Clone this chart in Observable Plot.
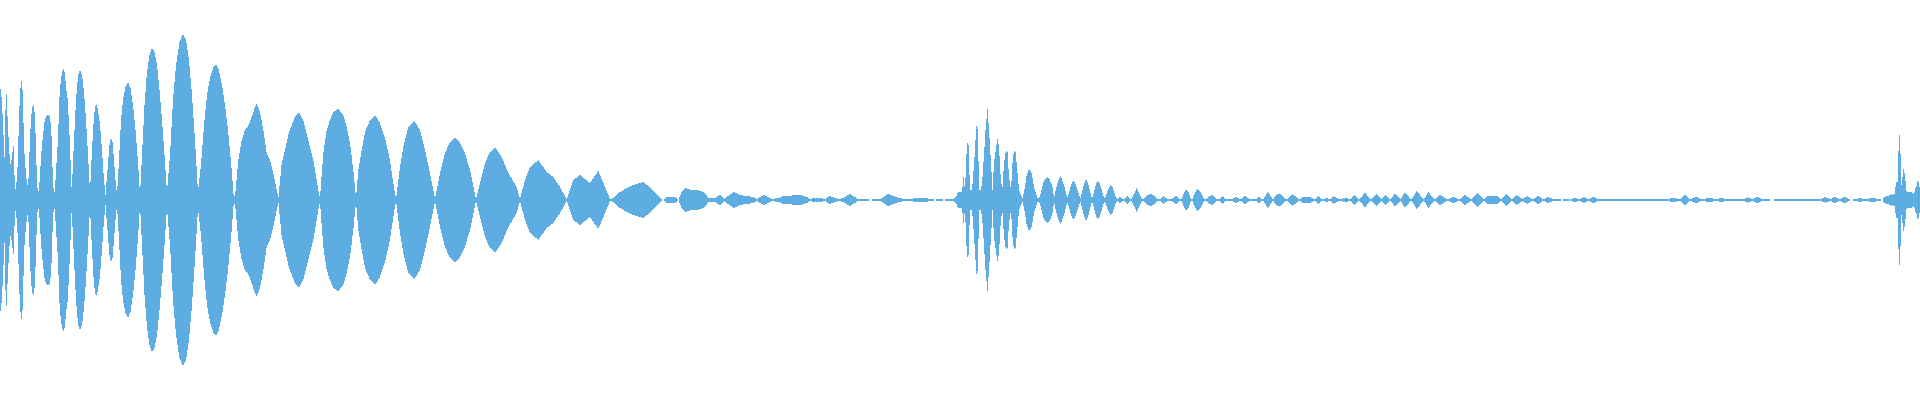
<!DOCTYPE html>
<html>
<head>
<meta charset="utf-8">
<script src="https://cdn.jsdelivr.net/npm/d3@7"></script>
<script src="https://cdn.jsdelivr.net/npm/@observablehq/plot@0.6"></script>
<style>
  html, body { margin: 0; padding: 0; background: #ffffff; }
  #chart svg { display: block; }
</style>
</head>
<body>
<div id="chart"></div>
<script>
// Waveform envelope: [sample position, peak amplitude] pairs.
const onset = [[0,115],[1.7,102],[3.3,70],[4.5,43],[5.5,90],[6.5,106],[7.8,78],[8.8,57],[9.8,42],[10.8,33],[12.3,47],[13.8,56],[14.8,13],[16,10],[17.8,37],[18.8,75],[20,107],[21,117],[22.2,121],[23.3,83],[24.7,40],[26,27],[27.3,13],[28.5,22],[29.7,52],[31,83],[32.5,93],[34,96],[35.2,78],[36.3,40],[37.7,8],[39,10],[40,25],[41.3,47],[43,65],[44.8,80],[46.5,84],[48.2,86],[50,83],[51.3,70],[52.7,27],[54,3],[55.3,17],[56.7,40],[58,60],[59.3,100],[60.7,118],[62,127],[63.3,131],[64.7,128],[66,113],[67.5,102],[69,77]];

const decay = [[70.5,40],[71.7,8],[74,60],[76,100],[78,124],[80,131],[82,125],[84,108],[86,80],[88,45],[90,8],[92,50],[94,85],[96,97],[98,90],[100,75],[102,50],[104,20],[105.5,5],[107.5,30],[109.5,55],[111,63],[112.5,58],[114,40],[115.5,20],[117,5],[119,40],[121,80],[123,100],[125.5,113],[128,118],[130.5,112],[133,95],[135.5,70],[138,38],[140,5],[142,45],[144.5,95],[147,128],[149.5,145],[152,152],[154.5,148],[157,135],[159.5,110],[162,80],[164.5,45],[167,8],[170,45],[173,100],[176,135],[179.5,158],[183,166],[186,160],[189,140],[192,105],[195,60],[198,8],[201,35],[204,75],[207,105],[210,122],[213,132],[216,136],[219,130],[222,115],[225,95],[228,70],[231,38],[233.5,6],[235,3],[238.3,40],[241.7,60],[245,70],[248.3,74],[251.7,83],[255,93],[256.7,96],[260,88],[263.3,70],[266.7,47],[270,40],[273.3,27],[276.7,10],[278.5,3],[281.7,37],[285,50],[288.3,65],[291.7,75],[295,83],[299,88],[303.3,80],[308.3,60],[313.3,40],[318.3,10],[320,2]];

const fade = [[323.3,47],[326.7,70],[330,80],[333.3,88],[338.3,91],[343.3,85],[346.7,73],[350,57],[353.3,30],[356,2],[358.3,30],[361.7,50],[365,68],[370,80],[375,85],[380,77],[385,62],[390,40],[393.3,17],[396,1],[400,33],[403.3,53],[408.3,73],[414.3,79],[420,70],[425,50],[430,27],[435,1],[440,27],[445,47],[450,58],[455,62],[460,57],[465,47],[470,30],[476,1],[480,17],[485,37],[490,48],[495,53],[501.7,43],[508.3,27],[516.7,13],[520,1],[525,20],[530,33],[538.3,40],[546.7,28],[553.3,23],[560,13],[566.7,1],[573.3,20],[580,25],[590,17],[598.3,29],[605,13],[610,1],[613.3,2],[620,8],[626.7,12],[633,15],[640,17]];

const quiet = [[643,18],[650,13],[655,7],[660,2],[663,0],[664,0.5],[666.7,3],[675,3],[678,0],[678.3,0],[681.7,8],[685,12],[691.7,10],[698.3,10],[705,7],[708.3,2],[715,2],[720,5],[724,1],[726.7,3],[734,8],[740,5],[746.7,4],[753.3,3],[756.7,1],[764,5],[771.7,1],[778.3,2],[783.3,4],[800,5],[806.7,3],[810,1],[813.3,2],[821.7,2],[825,1],[830,4],[838.3,1],[843.3,2],[850,6],[858.3,1],[868,1],[870,0],[873,1],[880,1],[881.7,2],[888.3,6],[896.7,3],[903.3,1],[923.3,2],[933.3,1],[935,0],[936.7,1],[942,1],[943,0],[946,1],[953,1],[956,3]];

const burst2 = [[958,8],[960,8],[962,8],[963.5,23],[965,10],[967,58],[968.5,55],[970,10],[972,10],[974,35],[975.5,60],[976.5,74],[978,70],[979,10],[981,10],[982.5,23],[984,45],[985.5,70],[987.5,91],[989,70],[991,37],[992.5,10],[994,37],[996,52],[997.5,61],[999,53],[1001,17],[1002.5,13],[1004,37],[1006,50],[1007.5,48],[1009,23],[1011,10],[1012.5,37],[1014,50],[1015.5,48],[1017,33],[1019,10],[1021,5]];

const ring2 = [[1022.7,2],[1025,13],[1026.7,25],[1029,31],[1031.7,27],[1034,13],[1037.3,2],[1039.3,2],[1042,12],[1044,20],[1047.3,23],[1050,20],[1052.7,12],[1054,2],[1056.7,14],[1058.7,21],[1060,23],[1062,21],[1064.7,12],[1067.3,2],[1070,11],[1072,17],[1073.3,19],[1075.3,17],[1078,9],[1080,2],[1080.7,2],[1083,12],[1085.7,21],[1088,17],[1091.7,2],[1092.3,2],[1095,12],[1097.3,19],[1100,16],[1104,2],[1105,2],[1108,10],[1110.7,15],[1113,12],[1116,2],[1117.3,1],[1120,3],[1123,1],[1125,1],[1127,4],[1130,1],[1131.7,1],[1134,6],[1136.7,12],[1139,7],[1142,1],[1144,1],[1147,5],[1150,6],[1153,5],[1158,1],[1160,1],[1163,4],[1168,1],[1171.7,1],[1176,4],[1180,1],[1181.7,1],[1184,7],[1186,11],[1188.5,8],[1191,1],[1192.3,1],[1195,7],[1197.3,11],[1200,9],[1204,1],[1206,1],[1209,4],[1212,5],[1217,1],[1219.3,1],[1222,4],[1225.7,1],[1231,1],[1231.7,1],[1236,3],[1240,1],[1241,1],[1245,4],[1250,1],[1256.7,1],[1259,3],[1261.7,1],[1263.3,1],[1266,5],[1267.3,8],[1270,5],[1272.7,1],[1273.3,1],[1277,6]];

const tail = [[1280,6],[1283,4],[1285,1],[1287.3,1],[1290,4],[1292.7,6],[1295,4],[1298.3,1],[1300.7,1],[1303,3],[1310,3],[1314.3,1],[1316,1],[1318,4],[1321.7,1],[1323.3,1],[1326,2],[1329.3,1],[1330,1],[1333.3,4],[1339,1],[1340,1],[1345,2],[1350,1],[1354,5],[1359,1],[1360,1],[1363,5],[1365,8],[1367,5],[1370,1],[1371.7,1],[1376.7,6],[1381.7,1],[1385.7,5],[1390,1],[1391,1],[1395,7],[1400,1],[1400.7,1],[1405,8],[1410.7,1],[1411.7,1],[1416.7,9],[1423.3,1],[1424,1],[1428.3,8],[1434,1],[1435,1],[1440,5],[1446.7,1],[1448.3,1],[1453.3,3],[1458.3,1],[1460,1],[1465,5],[1470.7,1],[1471.7,1],[1477.3,7],[1483.3,1],[1484,1],[1488,4],[1497,4],[1500.7,1],[1501.7,1],[1506.7,6],[1511.7,1],[1512.3,1],[1516.7,5],[1522.3,1],[1522.7,1],[1527.3,4],[1532.3,1],[1533.3,1],[1538.3,4],[1543.3,1],[1544,1],[1548.3,3],[1552.7,1],[1554,1],[1560,1],[1561,0],[1562.5,0],[1563.3,1],[1568,1],[1569,0],[1570.7,1],[1575,2],[1579,1],[1580,1],[1584,3],[1588.3,1],[1589.3,1],[1593.3,3],[1598.3,1],[1601.7,1],[1605,1.5],[1611.7,1],[1612.7,1],[1616,1.5],[1621.7,1],[1624,1],[1635,1],[1638.3,1],[1643,1.5],[1646.7,1],[1650,1],[1663,1],[1668.3,1],[1673.3,2.5],[1679.3,1],[1680,1],[1685,5.5],[1690,1],[1690.7,1],[1695.7,3.5],[1701,1],[1703.3,1],[1710,2.5],[1715,1],[1716.7,1],[1721.7,2],[1726.7,1],[1728.3,1],[1741.7,1],[1743.3,1],[1747.7,2.7],[1752.7,1],[1753.3,1],[1757.3,3],[1762.3,1],[1763.3,1],[1769,1],[1770,0],[1773.5,0],[1775,1],[1778,1.5],[1780,1],[1781.7,1],[1788.3,1],[1790,1],[1796.7,1],[1798.3,1],[1808.3,1],[1811.7,1],[1816,1.5],[1820,1],[1820.7,1],[1825,2.7],[1830,1],[1830.7,1],[1834.3,3],[1839.3,1],[1840,1],[1844.3,3.3],[1849.3,1],[1850,0],[1853,0],[1853.3,1],[1860,1.7],[1865.7,1],[1867.3,1],[1872,2.3],[1878.3,1],[1880.7,1],[1881.5,0]];

const burst3 = [[1882.5,0],[1883.3,2],[1885,3],[1887,4],[1890,5],[1891,6],[1893,4],[1894,7],[1895.3,5],[1896,31],[1896.8,10],[1897.3,12],[1898.3,44],[1899.3,68],[1900.3,55],[1901.3,13],[1902.3,21],[1903.7,32],[1904.7,26],[1905.7,17],[1906.7,7],[1908.3,8],[1911,8],[1914,6],[1915.3,11],[1916.7,15],[1918,21],[1919,15],[1920,12]];

const samples = [...onset, ...decay, ...fade, ...quiet, ...burst2, ...ring2, ...tail, ...burst3]
  .map(([t, a]) => ({t, a}));

const chart = Plot.plot({
  width: 1920,
  height: 400,
  margin: 0,
  x: {domain: [0, 1920], axis: null},
  y: {domain: [-200, 200], axis: null},
  marks: [
    Plot.areaY(samples, {
      x: "t",
      y1: d => -d.a,
      y2: d => d.a,
      fill: "#5dade2",
      curve: "linear",
      shapeRendering: "crispEdges"
    })
  ]
});
document.getElementById("chart").appendChild(chart);
</script>
</body>
</html>
